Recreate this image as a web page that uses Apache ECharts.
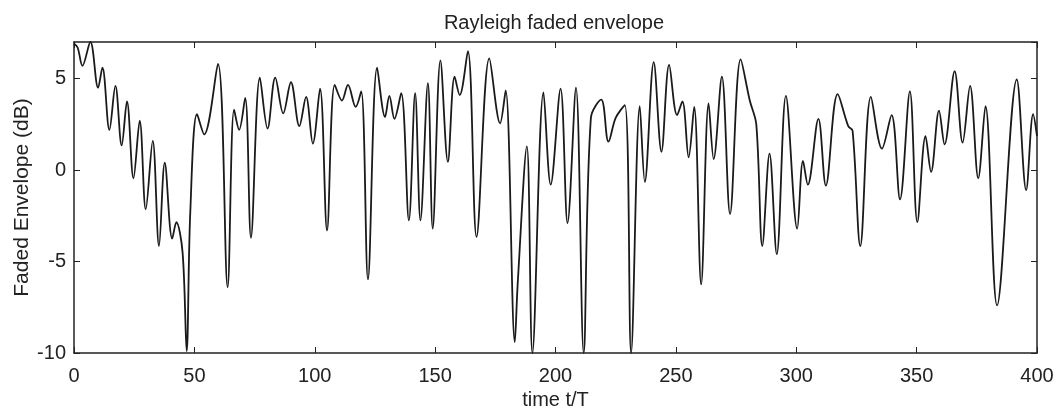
<!DOCTYPE html>
<html>
<head>
<meta charset="utf-8">
<title>Rayleigh faded envelope</title>
<script src="https://cdn.jsdelivr.net/npm/echarts@6/dist/echarts.min.js"></script>
<style>
  html, body { margin: 0; padding: 0; background: #fff; }
  #chart { width: 1062px; height: 412px; }
</style>
</head>
<body>
<div id="chart"></div>
<script>
// time axis (t/T) and envelope (dB)
var timeValues = [
  0, 1.5, 3.5, 6.8, 10, 11.8, 14.7, 17.2, 19.8, 22, 24.7, 27.3, 29.8, 32.7, 35.3, 37.7,
  40.8, 42.5, 45.1, 46.8, 48.3, 51.1, 54.1, 59.8, 63.8, 66.5, 68.6, 71.1, 73.5, 77.2,
  80.4, 83.6, 86.9, 90.1, 93.6, 96.4, 99.2, 102.2, 105.1, 108.3, 111.3, 113.8, 117,
  119.3, 122.1, 125.9, 129.2, 131, 133.1, 135.9, 139.1, 141.7, 143.9, 147, 149, 152.2,
  155.3, 158.1, 160.2, 163.6, 167.2, 172.5, 177, 179.3, 183.1, 184.3, 188.1, 190.4, 195, 198,
  202.1, 205, 208.5, 211.7, 214.7, 219, 222, 225, 228.8, 231.4, 235, 237.1, 240.8, 244,
  247.2, 250.5, 252.7, 255.3, 257.6, 260.5, 263.6, 265.7, 269.1, 272.5, 276.9, 280.7,
  283.4, 285.9, 288.9, 291.9, 295.7, 300.4, 302.8, 304.8, 309.2, 312.3, 317.2, 321.6,
  323.4, 326.6, 331, 335.6, 339.6, 343.1, 347.2, 350.3, 353.7, 356, 359.3, 361.6, 365.8,
  369.1, 372.2, 375.6, 378.6, 383.4, 391.6, 395.5, 398.4, 400
]
var envelopeDb = [
  6.9, 6.7, 5.7, 7.0, 4.5, 5.6, 2.2, 4.6, 1.35, 3.75, -0.45, 2.7, -2.15, 1.6, -4.15, 0.4,
  -3.75, -2.85, -4.5, -9.9, -2.3, 3.05, 1.95, 5.8, -6.4, 3.3, 2.2, 3.95, -3.7, 5.05,
  2.27, 5.05, 3.1, 4.8, 2.4, 4.0, 1.45, 4.45, -3.3, 4.66, 3.8, 4.66, 3.45,
  4.3, -5.98, 5.6, 2.9, 4.05, 2.8, 4.2, -2.75, 4.2, -2.75, 4.75, -3.2, 6.0,
  0.45, 5.1, 4.1, 6.5, -3.65, 6.1, 2.55, 4.35, -9.4, -6.2, 1.3, -10, 4.25, -0.8,
  4.45, -2.9, 4.5, -10, 2.85, 3.85, 1.55, 2.85, 3.55, -10, 3.5, -0.65, 5.9, 1.0,
  5.75, 3.0, 3.75, 0.7, 3.45, -6.25, 3.65, 0.6, 5.1, -2.4, 6.05, 3.8,
  2.5, -4.15, 0.9, -4.6, 4.05, -3.2, 0.5, -0.8, 2.8, -0.85, 4.15, 2.4,
  2.15, -4.15, 4.0, 1.17, 3.0, -1.6, 4.3, -2.85, 1.85, -0.1, 3.25, 1.4, 5.4,
  1.5, 4.6, -0.45, 3.5, -7.4, 4.95, -1.1, 3.05, 1.85
]
var xTicks = [0, 400, 50]   // min, max, step
var yTicks = [-10, 7, 5]

var seriesData = timeValues.map(function (t, i) {
  return [t, envelopeDb[i]]
})

var chartDom = document.getElementById('chart')
var myChart = echarts.init(chartDom, null, { renderer: 'canvas' })

var fontFamily = "'Liberation Sans', Arial, sans-serif"
var axisColor = '#222'

var option = {
  backgroundColor: '#fff',
  animation: false,
  textStyle: { fontFamily: fontFamily },
  title: {
    text: 'Rayleigh faded envelope',
    left: 549,
    top: 8,
    textAlign: 'center',
    textStyle: {
      fontFamily: fontFamily,
      fontSize: 20,
      fontWeight: 'normal',
      color: axisColor
    }
  },
  grid: {
    left: 74,
    right: 25,
    top: 42,
    bottom: 59,
    containLabel: false,
    outerBoundsMode: 'none'
  },
  xAxis: [
    {
      type: 'value',
      min: xTicks[0],
      max: xTicks[1],
      interval: xTicks[2],
      name: 'time t/T',
      nameLocation: 'middle',
      nameGap: 37,
      nameMoveOverlap: false,
      nameTextStyle: { fontSize: 20, color: axisColor },
      axisLine: { onZero: false, lineStyle: { color: axisColor, width: 1.5 } },
      axisTick: { inside: true, length: 6, lineStyle: { color: axisColor } },
      axisLabel: { margin: 13, fontSize: 20, color: axisColor },
      splitLine: { show: false }
    },
    {
      type: 'value',
      position: 'top',
      min: xTicks[0],
      max: xTicks[1],
      interval: xTicks[2],
      axisLine: { onZero: false, lineStyle: { color: axisColor, width: 1.5 } },
      axisTick: { inside: true, length: 6, lineStyle: { color: axisColor } },
      axisLabel: { show: false },
      splitLine: { show: false }
    }
  ],
  yAxis: [
    {
      type: 'value',
      min: yTicks[0],
      max: yTicks[1],
      interval: yTicks[2],
      name: 'Faded Envelope (dB)',
      nameLocation: 'middle',
      nameGap: 41,
      nameMoveOverlap: false,
      nameTextStyle: { fontSize: 21, color: axisColor },
      axisLine: { onZero: false, lineStyle: { color: axisColor, width: 1.5 } },
      axisTick: { inside: true, length: 6, lineStyle: { color: axisColor } },
      axisLabel: { margin: 8, fontSize: 20, color: axisColor, showMaxLabel: false },
      splitLine: { show: false }
    },
    {
      type: 'value',
      position: 'right',
      min: yTicks[0],
      max: yTicks[1],
      interval: yTicks[2],
      axisLine: { onZero: false, lineStyle: { color: axisColor, width: 1.5 } },
      axisTick: { inside: true, length: 6, lineStyle: { color: axisColor } },
      axisLabel: { show: false },
      splitLine: { show: false }
    }
  ],
  series: [
    {
      name: 'envelope',
      type: 'line',
      data: seriesData,
      xAxisIndex: 0,
      yAxisIndex: 0,
      showSymbol: false,
      smooth: 0.35,
      clip: true,
      lineStyle: { color: '#1a1a1a', width: 1.8 }
    }
  ]
}

option && myChart.setOption(option)
</script>
</body>
</html>
